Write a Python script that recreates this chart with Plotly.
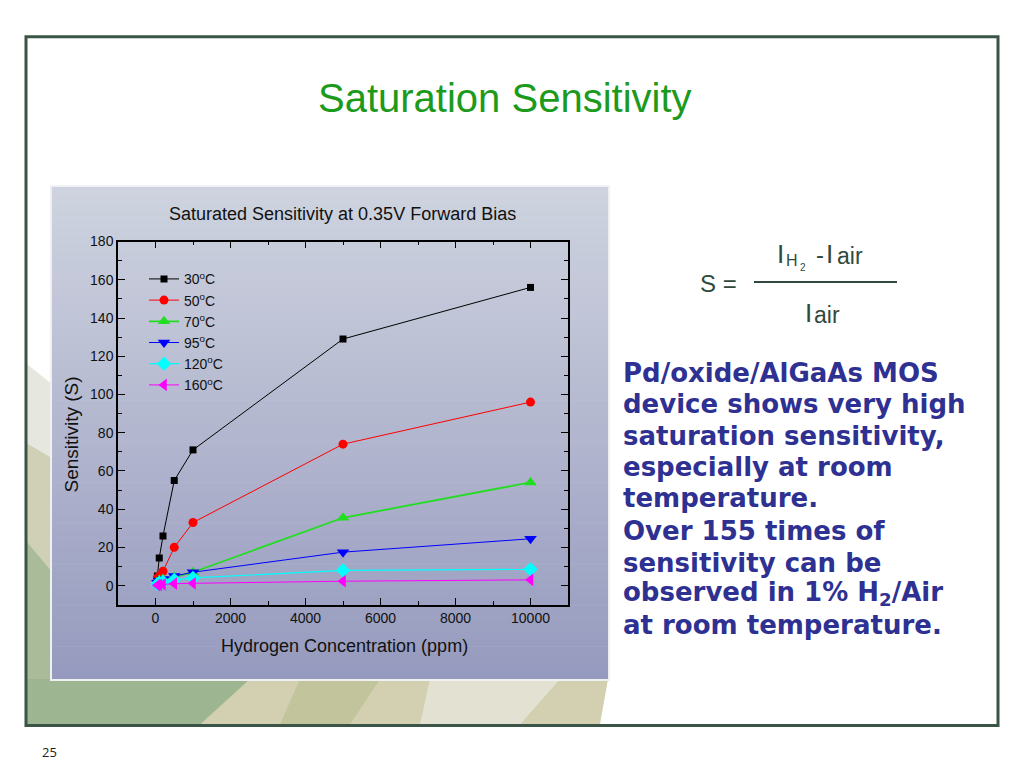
import plotly.graph_objects as go

W, H = 1024, 768

# ---- data ----
conc = [50, 100, 200, 500, 1000, 5000, 10000]
s30 = [5, 14.5, 26, 55, 71, 129, 156]
s50 = [4, 5, 7.5, 20, 33, 74, 96]
s70 = [2, 3, 3.5, 4.5, 7, 35.5, 54]
s95 = [1.5, 2.5, 3.5, 5, 7, 17.5, 24.5]
s120 = [0.8, 1.5, 2, 3, 4, 8, 8.5]
s160 = [0.2, 0.4, 0.6, 1, 1.2, 2.3, 3]
series_names = ["30<sup>o</sup>C", "50<sup>o</sup>C", "70<sup>o</sup>C",
                "95<sup>o</sup>C", "120<sup>o</sup>C", "160<sup>o</sup>C"]
series_vals = [s30, s50, s70, s95, s120, s160]
colors = ["#000000", "#ff0000", "#22dd22", "#0000ff", "#00ffff", "#ff00ff"]
symbols = ["square", "circle", "triangle-up", "triangle-down", "diamond", "triangle-left"]
msizes = [7, 9, 11, 11, 11, 11]
lwidths = [1, 1, 1.8, 1, 1.2, 1]
xticks = [0, 2000, 4000, 6000, 8000, 10000]
xticklabels = ["0", "2000", "4000", "6000", "8000", "10000"]
yticks = [0, 20, 40, 60, 80, 100, 120, 140, 160, 180]

body_lines_1 = ["Pd/oxide/AlGaAs MOS", "device shows very high", "saturation sensitivity,",
                "especially at room", "temperature."]
body_lines_2 = ["Over 155 times of", "sensitivity can be", "observed in 1% H<sub>2</sub>/Air",
                "at room temperature."]


def px(x):
    return x / W


def py(y):
    return 1 - y / H


fig = go.Figure()
for name, vals, c, sym, ms, lw in zip(series_names, series_vals, colors, symbols, msizes, lwidths):
    fig.add_trace(go.Scatter(
        x=conc, y=vals, name=name, mode="lines+markers",
        line=dict(color=c, width=lw),
        marker=dict(symbol=sym, size=ms, color=c, line=dict(width=0)),
    ))

shapes = []


def poly(pts, color, opacity=1.0):
    path = "M " + " L ".join(f"{px(x):.4f},{py(y):.4f}" for x, y in pts) + " Z"
    return dict(type="path", xref="paper", yref="paper", path=path,
                fillcolor=color, opacity=opacity, line=dict(width=0), layer="below")


# slide background decoration (lower-left swoosh)
shapes.append(poly([(27, 360), (52, 380), (52, 724), (27, 724)], "#e6e8df", 1))
shapes.append(poly([(27, 440), (52, 455), (52, 724), (27, 724)], "#cfd0b6", 1))
shapes.append(poly([(27, 540), (52, 570), (52, 724), (27, 724)], "#a9bb98", 1))
shapes.append(poly([(52, 678), (608, 678), (600, 724), (27, 724), (27, 678)], "#d2d0b0", 1))
shapes.append(poly([(27, 678), (250, 678), (200, 724), (27, 724)], "#9db590", 1))
shapes.append(poly([(300, 678), (380, 678), (350, 724), (280, 724)], "#c2c49c", 1))
shapes.append(poly([(430, 678), (560, 678), (520, 724), (420, 724)], "#e2e1d2", 1))

# chart image border
shapes.append(dict(type="rect", xref="paper", yref="paper",
                   x0=px(50), x1=px(610), y0=py(680), y1=py(179),
                   fillcolor="#eef0f2", line=dict(width=0), layer="below"))
# gradient background of chart image
top = (206, 211, 223)
bot = (150, 154, 190)
n = 60
y0p, y1p = 181, 678
for i in range(n):
    t = i / (n - 1)
    c = tuple(int(round(top[k] + (bot[k] - top[k]) * t)) for k in range(3))
    ya = y0p + (y1p - y0p) * i / n
    yb = y0p + (y1p - y0p) * (i + 1) / n + 0.6
    shapes.append(dict(type="rect", xref="paper", yref="paper",
                       x0=px(52), x1=px(608), y0=py(min(yb, y1p)), y1=py(ya),
                       fillcolor="rgb(%d,%d,%d)" % c, line=dict(width=0), layer="below"))

# slide frame
shapes.append(dict(type="rect", xref="paper", yref="paper",
                   x0=px(26), x1=px(998), y0=py(725), y1=py(29),
                   line=dict(color="#3a5446", width=3), fillcolor="rgba(0,0,0,0)"))
# fraction bar
shapes.append(dict(type="line", xref="paper", yref="paper",
                   x0=px(754), x1=px(897), y0=py(277), y1=py(277),
                   line=dict(color="#2f4a3c", width=2)))

ann = []


def text(t, x, y, size, color, family="Liberation Sans", xanchor="center", weight="normal", angle=0):
    ann.append(dict(text=t, x=px(x), y=py(y), xref="paper", yref="paper", showarrow=False,
                    font=dict(family=family, size=size, color=color, weight=weight),
                    xanchor=xanchor, yanchor="middle", textangle=angle))


text("Saturation Sensitivity", 505, 91, 40, "#1c9a1c")
text("Saturated Sensitivity at 0.35V Forward Bias", 342, 208, 18, "#111111")
text("Hydrogen Concentration (ppm)", 344, 645, 18, "#111111")
text("Sensitivity (S)", 72, 431, 19, "#111111", angle=-90)

# formula
fc = "#2f4a3c"
text("S =", 718, 278, 24, fc)
text("I", 780, 249, 26, fc)
text("H", 792, 255, 16, fc)
text("2", 803, 262, 10, fc)
text("-", 820, 249, 24, fc)
text("I", 829, 249, 26, fc)
text("air", 850, 251, 23, fc)
text("I", 808, 308, 26, fc)
text("air", 827, 310, 23, fc)

tc = "#2e3192"
for i, line in enumerate(body_lines_1):
    text(line, 621, 369 + i * 31.5, 26, tc, family="DejaVu Sans", xanchor="left", weight="bold")
for i, line in enumerate(body_lines_2):
    text(line, 621, 529 + i * 31.5, 26, tc, family="DejaVu Sans", xanchor="left", weight="bold")

text("25", 40, 752, 13, "#222222", family="Open Sans", xanchor="left")
fig.update_layout(annotations=ann)

axis_common = dict(showline=True, linecolor="#000000", linewidth=1.5, mirror="ticks",
                   ticks="inside", ticklen=7, tickwidth=1.2, tickcolor="#000000",
                   showgrid=False, zeroline=False,
                   tickfont=dict(family="Liberation Sans", size=14, color="#111111"))

fig.update_layout(
    width=W, height=H, margin=dict(l=0, r=0, t=0, b=0),
    paper_bgcolor="#ffffff", plot_bgcolor="rgba(0,0,0,0)",
    showlegend=True,
    legend=dict(x=px(144), y=py(258), xanchor="left", yanchor="top",
                bgcolor="rgba(0,0,0,0)", borderwidth=0, itemwidth=30,
                tracegroupgap=0,
                font=dict(family="Liberation Sans", size=14, color="#111111")),
    xaxis=dict(domain=[px(118), px(568)], range=[-1000, 11000], tickvals=xticks,
               ticktext=xticklabels,
               minor=dict(ticks="inside", ticklen=4, dtick=1000, tick0=0, tickcolor="#000000"),
               **axis_common),
    yaxis=dict(domain=[py(603), py(236)], range=[-10, 180], tickvals=yticks,
               minor=dict(ticks="inside", ticklen=4, dtick=10, tick0=0, tickcolor="#000000"),
               **axis_common),
    shapes=shapes,
)

fig.write_html("out.html", config={"displayModeBar": False},
               post_script="document.body.style.margin='0px';document.body.style.overflow='hidden';")
